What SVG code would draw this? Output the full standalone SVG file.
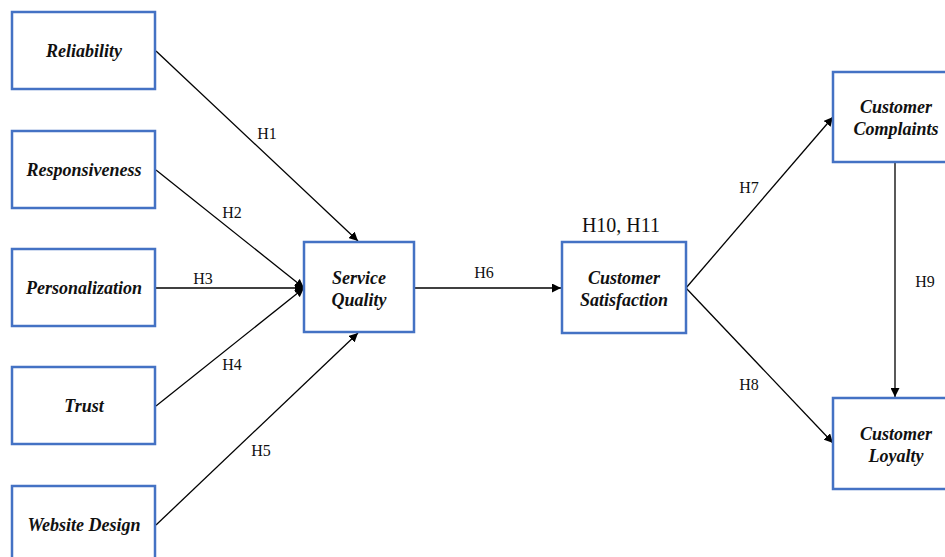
<svg xmlns="http://www.w3.org/2000/svg" width="945" height="557" viewBox="0 0 945 557">
  <defs>
    <marker id="arrow" viewBox="0 0 10 10" refX="10" refY="5" markerWidth="9" markerHeight="9" markerUnits="userSpaceOnUse" orient="auto">
      <path d="M0,0 L10,5 L0,10 z" fill="#000"/>
    </marker>
    <style>
      .box { fill: #fff; stroke: #4472c4; stroke-width: 2.5; }
      .node-label { font-family: "Liberation Serif", "Times New Roman", serif; font-weight: bold; font-style: italic; font-size: 18px; fill: #111; text-anchor: middle; }
      .edge { stroke: #000; stroke-width: 1.3; fill: none; marker-end: url(#arrow); }
      .edge-label { font-family: "Liberation Serif", "Times New Roman", serif; font-size: 16px; fill: #111; text-anchor: middle; }
      .big-label { font-family: "Liberation Serif", "Times New Roman", serif; font-size: 20px; fill: #111; text-anchor: middle; }
    </style>
  </defs>
  <rect width="945" height="557" fill="#fff"/>

  <!-- connectors -->
  <g id="connectors">
    <line class="edge" x1="156" y1="51" x2="358" y2="241"/>
    <line class="edge" x1="156" y1="170" x2="304" y2="288"/>
    <line class="edge" x1="156" y1="288" x2="304" y2="288"/>
    <line class="edge" x1="156" y1="406" x2="304" y2="288"/>
    <line class="edge" x1="156" y1="525" x2="358" y2="333"/>
    <line class="edge" x1="414" y1="288" x2="561" y2="288"/>
    <line class="edge" x1="686" y1="288" x2="833" y2="117"/>
    <line class="edge" x1="686" y1="288" x2="833" y2="443"/>
    <line class="edge" x1="895" y1="163" x2="895" y2="397"/>
    <text class="edge-label" x="267" y="139">H1</text>
    <text class="edge-label" x="232" y="218">H2</text>
    <text class="edge-label" x="203" y="284">H3</text>
    <text class="edge-label" x="232" y="370">H4</text>
    <text class="edge-label" x="261" y="456">H5</text>
    <text class="edge-label" x="484" y="278">H6</text>
    <text class="edge-label" x="749" y="193">H7</text>
    <text class="edge-label" x="749" y="390">H8</text>
    <text class="edge-label" x="925" y="287">H9</text>
  </g>

  <g id="reliability">
    <rect class="box" x="12" y="12" width="143" height="77"/>
    <text class="node-label" x="84" y="57">Reliability</text>
  </g>
  <g id="responsiveness">
    <rect class="box" x="12" y="131" width="143" height="77"/>
    <text class="node-label" x="84" y="176">Responsiveness</text>
  </g>
  <g id="personalization">
    <rect class="box" x="12" y="249" width="143" height="77"/>
    <text class="node-label" x="84" y="294">Personalization</text>
  </g>
  <g id="trust">
    <rect class="box" x="12" y="367" width="143" height="77"/>
    <text class="node-label" x="84" y="412">Trust</text>
  </g>
  <g id="website-design">
    <rect class="box" x="12" y="486" width="143" height="77"/>
    <text class="node-label" x="84" y="531">Website Design</text>
  </g>
  <g id="service-quality">
    <rect class="box" x="304" y="242" width="110" height="90"/>
    <text class="node-label" x="359" y="284">Service</text>
    <text class="node-label" x="359" y="306">Quality</text>
  </g>
  <g id="customer-satisfaction">
    <text class="big-label" x="621" y="232">H10, H11</text>
    <rect class="box" x="562" y="242" width="124" height="91"/>
    <text class="node-label" x="624" y="284">Customer</text>
    <text class="node-label" x="624" y="306">Satisfaction</text>
  </g>
  <g id="customer-complaints">
    <rect class="box" x="833" y="72" width="125" height="90"/>
    <text class="node-label" x="896" y="113">Customer</text>
    <text class="node-label" x="896" y="135">Complaints</text>
  </g>
  <g id="customer-loyalty">
    <rect class="box" x="833" y="398" width="125" height="91"/>
    <text class="node-label" x="896" y="440">Customer</text>
    <text class="node-label" x="896" y="462">Loyalty</text>
  </g>
</svg>
